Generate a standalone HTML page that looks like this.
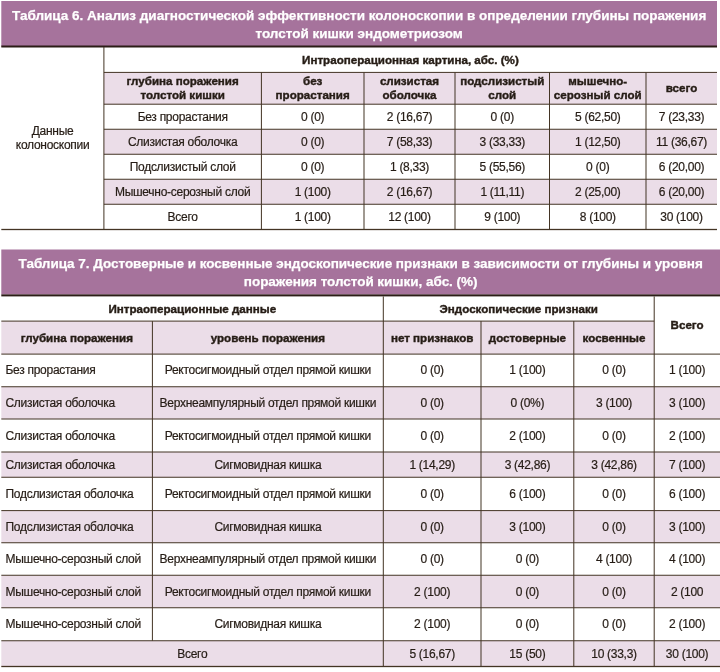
<!DOCTYPE html>
<html lang="ru"><head><meta charset="utf-8"><title>Таблицы 6 и 7</title>
<style>
html,body{margin:0;padding:0;background:#fff}
body{width:720px;height:672px;position:relative;overflow:hidden;font-family:"Liberation Sans",Arial,sans-serif;color:#261d16}
.bg{position:absolute;left:0;top:0}
.c{position:absolute;display:flex;align-items:center;justify-content:center;text-align:center;box-sizing:border-box;white-space:nowrap}
.c span{display:block}
.title{color:#fff;font-weight:bold;font-size:13.5px;line-height:18px;letter-spacing:0;-webkit-text-stroke:0.25px #fff}
.hb{font-weight:bold;font-size:11.6px;line-height:14px;letter-spacing:0;-webkit-text-stroke:0.4px #261d16}
.t2{letter-spacing:-0.03px !important}
.d2{line-height:14.5px !important}
.b{font-size:12px;line-height:16px;letter-spacing:-0.28px;-webkit-text-stroke:0.2px #261d16}
</style></head>
<body>
<svg class="bg" width="720" height="672" viewBox="0 0 720 672">
<rect x="1.3" y="1" width="715.7" height="45.5" fill="#a6739c"/>
<rect x="1.3" y="45.5" width="715.7" height="2" fill="#2b1d17"/>
<rect x="103.9" y="72.4" width="613.1" height="31.8" fill="#ebdde8"/>
<rect x="103.9" y="129.25" width="613.1" height="25" fill="#ebdde8"/>
<rect x="103.9" y="179.25" width="613.1" height="25" fill="#ebdde8"/>
<rect x="103.9" y="71.9" width="613.1" height="1" fill="#433424"/>
<rect x="103.9" y="103.7" width="613.1" height="1" fill="#433424"/>
<rect x="103.9" y="128.75" width="613.1" height="1" fill="#433424"/>
<rect x="103.9" y="153.75" width="613.1" height="1" fill="#433424"/>
<rect x="103.9" y="178.75" width="613.1" height="1" fill="#433424"/>
<rect x="103.9" y="203.75" width="613.1" height="1" fill="#433424"/>
<rect x="1.3" y="228.85" width="715.7" height="1.3" fill="#433424"/>
<rect x="103.4" y="47" width="1" height="182.5" fill="#433424"/>
<rect x="260.9" y="72.4" width="1" height="157.1" fill="#433424"/>
<rect x="363.5" y="72.4" width="1" height="157.1" fill="#433424"/>
<rect x="454.5" y="72.4" width="1" height="157.1" fill="#433424"/>
<rect x="549" y="72.4" width="1" height="157.1" fill="#433424"/>
<rect x="645.5" y="72.4" width="1" height="157.1" fill="#433424"/>
<rect x="1.3" y="249.5" width="718.7" height="45" fill="#a6739c"/>
<rect x="1.3" y="294.4" width="718.7" height="2" fill="#2b1d17"/>
<rect x="1.3" y="321.1" width="652.9" height="33" fill="#ebdde8"/>
<rect x="1.3" y="386.75" width="718.7" height="32.25" fill="#ebdde8"/>
<rect x="1.3" y="452" width="718.7" height="25.25" fill="#ebdde8"/>
<rect x="1.3" y="510.6" width="718.7" height="32.15" fill="#ebdde8"/>
<rect x="1.3" y="575.25" width="718.7" height="32.5" fill="#ebdde8"/>
<rect x="1.3" y="640.75" width="718.7" height="25.75" fill="#ebdde8"/>
<rect x="1.3" y="320.6" width="652.9" height="1" fill="#433424"/>
<rect x="1.3" y="353.6" width="718.7" height="1" fill="#433424"/>
<rect x="1.3" y="386.25" width="718.7" height="1" fill="#433424"/>
<rect x="1.3" y="418.5" width="718.7" height="1" fill="#433424"/>
<rect x="1.3" y="451.5" width="718.7" height="1" fill="#433424"/>
<rect x="1.3" y="476.75" width="718.7" height="1" fill="#433424"/>
<rect x="1.3" y="510.1" width="718.7" height="1" fill="#433424"/>
<rect x="1.3" y="542.25" width="718.7" height="1" fill="#433424"/>
<rect x="1.3" y="574.75" width="718.7" height="1" fill="#433424"/>
<rect x="1.3" y="607.25" width="718.7" height="1" fill="#433424"/>
<rect x="1.3" y="640.25" width="718.7" height="1" fill="#433424"/>
<rect x="1.3" y="665.85" width="718.7" height="1.3" fill="#433424"/>
<rect x="151.9" y="321.1" width="1" height="319.65" fill="#433424"/>
<rect x="382.8" y="296.4" width="1" height="370.1" fill="#433424"/>
<rect x="480.5" y="321.1" width="1" height="345.4" fill="#433424"/>
<rect x="573.3" y="321.1" width="1" height="345.4" fill="#433424"/>
<rect x="653.7" y="296.4" width="1" height="370.1" fill="#433424"/>
</svg>
<div class="c title" style="left:1.3px;top:2px;width:715.7px;height:45px;"><span>Таблица 6. Анализ диагностической эффективности колоноскопии в определении глубины поражения<br>толстой кишки эндометриозом</span></div>
<div class="c hb" style="left:103.9px;top:47px;width:613.1px;height:25.400000000000006px;"><span>Интраоперационная картина, абс. (%)</span></div>
<div class="c hb h2" style="left:103.9px;top:72.4px;width:157.49999999999997px;height:31.799999999999997px;"><span>глубина поражения<br>толстой кишки</span></div>
<div class="c hb h2" style="left:261.4px;top:72.4px;width:102.60000000000002px;height:31.799999999999997px;"><span>без<br>прорастания</span></div>
<div class="c hb h2" style="left:364px;top:72.4px;width:91px;height:31.799999999999997px;"><span>слизистая<br>оболочка</span></div>
<div class="c hb h2" style="left:455px;top:72.4px;width:94.5px;height:31.799999999999997px;"><span>подслизистый<br>слой</span></div>
<div class="c hb h2" style="left:549.5px;top:72.4px;width:96.5px;height:31.799999999999997px;"><span>мышечно-<br>серозный слой</span></div>
<div class="c hb h2" style="left:646px;top:72.4px;width:71px;height:31.799999999999997px;"><span>всего</span></div>
<div class="c b d2" style="left:1.3px;top:47px;width:102.60000000000001px;height:182.5px;"><span>Данные<br>колоноскопии</span></div>
<div class="c b" style="left:103.9px;top:104.2px;width:157.49999999999997px;height:25.049999999999997px;"><span>Без прорастания</span></div>
<div class="c b" style="left:261.4px;top:104.2px;width:102.60000000000002px;height:25.049999999999997px;"><span>0 (0)</span></div>
<div class="c b" style="left:364px;top:104.2px;width:91px;height:25.049999999999997px;"><span>2 (16,67)</span></div>
<div class="c b" style="left:455px;top:104.2px;width:94.5px;height:25.049999999999997px;"><span>0 (0)</span></div>
<div class="c b" style="left:549.5px;top:104.2px;width:96.5px;height:25.049999999999997px;"><span>5 (62,50)</span></div>
<div class="c b" style="left:646px;top:104.2px;width:71px;height:25.049999999999997px;"><span>7 (23,33)</span></div>
<div class="c b" style="left:103.9px;top:129.25px;width:157.49999999999997px;height:25.0px;"><span>Слизистая оболочка</span></div>
<div class="c b" style="left:261.4px;top:129.25px;width:102.60000000000002px;height:25.0px;"><span>0 (0)</span></div>
<div class="c b" style="left:364px;top:129.25px;width:91px;height:25.0px;"><span>7 (58,33)</span></div>
<div class="c b" style="left:455px;top:129.25px;width:94.5px;height:25.0px;"><span>3 (33,33)</span></div>
<div class="c b" style="left:549.5px;top:129.25px;width:96.5px;height:25.0px;"><span>1 (12,50)</span></div>
<div class="c b" style="left:646px;top:129.25px;width:71px;height:25.0px;"><span>11 (36,67)</span></div>
<div class="c b" style="left:103.9px;top:154.25px;width:157.49999999999997px;height:25.0px;"><span>Подслизистый слой</span></div>
<div class="c b" style="left:261.4px;top:154.25px;width:102.60000000000002px;height:25.0px;"><span>0 (0)</span></div>
<div class="c b" style="left:364px;top:154.25px;width:91px;height:25.0px;"><span>1 (8,33)</span></div>
<div class="c b" style="left:455px;top:154.25px;width:94.5px;height:25.0px;"><span>5 (55,56)</span></div>
<div class="c b" style="left:549.5px;top:154.25px;width:96.5px;height:25.0px;"><span>0 (0)</span></div>
<div class="c b" style="left:646px;top:154.25px;width:71px;height:25.0px;"><span>6 (20,00)</span></div>
<div class="c b" style="left:103.9px;top:179.25px;width:157.49999999999997px;height:25.0px;"><span>Мышечно-серозный слой</span></div>
<div class="c b" style="left:261.4px;top:179.25px;width:102.60000000000002px;height:25.0px;"><span>1 (100)</span></div>
<div class="c b" style="left:364px;top:179.25px;width:91px;height:25.0px;"><span>2 (16,67)</span></div>
<div class="c b" style="left:455px;top:179.25px;width:94.5px;height:25.0px;"><span>1 (11,11)</span></div>
<div class="c b" style="left:549.5px;top:179.25px;width:96.5px;height:25.0px;"><span>2 (25,00)</span></div>
<div class="c b" style="left:646px;top:179.25px;width:71px;height:25.0px;"><span>6 (20,00)</span></div>
<div class="c b" style="left:103.9px;top:204.25px;width:157.49999999999997px;height:25.25px;"><span>Всего</span></div>
<div class="c b" style="left:261.4px;top:204.25px;width:102.60000000000002px;height:25.25px;"><span>1 (100)</span></div>
<div class="c b" style="left:364px;top:204.25px;width:91px;height:25.25px;"><span>12 (100)</span></div>
<div class="c b" style="left:455px;top:204.25px;width:94.5px;height:25.25px;"><span>9 (100)</span></div>
<div class="c b" style="left:549.5px;top:204.25px;width:96.5px;height:25.25px;"><span>8 (100)</span></div>
<div class="c b" style="left:646px;top:204.25px;width:71px;height:25.25px;"><span>30 (100)</span></div>
<div class="c title t2" style="left:1.3px;top:250.5px;width:718.7px;height:45.0px;"><span>Таблица 7. Достоверные и косвенные эндоскопические признаки в зависимости от глубины и уровня<br>поражения толстой кишки, абс. (%)</span></div>
<div class="c hb" style="left:1.3px;top:296.4px;width:382.0px;height:24.700000000000045px;"><span>Интраоперационные данные</span></div>
<div class="c hb" style="left:383.3px;top:296.4px;width:270.90000000000003px;height:24.700000000000045px;"><span>Эндоскопические признаки</span></div>
<div class="c hb" style="left:654.2px;top:296.4px;width:65.79999999999995px;height:57.700000000000045px;"><span>Всего</span></div>
<div class="c hb" style="left:1.3px;top:321.1px;width:151.1px;height:33.0px;"><span>глубина поражения</span></div>
<div class="c hb" style="left:152.4px;top:321.1px;width:230.9px;height:33.0px;"><span>уровень поражения</span></div>
<div class="c hb" style="left:383.3px;top:321.1px;width:97.69999999999999px;height:33.0px;"><span>нет признаков</span></div>
<div class="c hb" style="left:481px;top:321.1px;width:92.79999999999995px;height:33.0px;"><span>достоверные</span></div>
<div class="c hb" style="left:573.8px;top:321.1px;width:80.40000000000009px;height:33.0px;"><span>косвенные</span></div>
<div class="c b" style="left:1.3px;top:354.1px;width:151.1px;height:32.64999999999998px;justify-content:flex-start;text-align:left;padding-left:4.2px;"><span>Без прорастания</span></div>
<div class="c b" style="left:152.4px;top:354.1px;width:230.9px;height:32.64999999999998px;"><span>Ректосигмоидный отдел прямой кишки</span></div>
<div class="c b" style="left:383.3px;top:354.1px;width:97.69999999999999px;height:32.64999999999998px;"><span>0 (0)</span></div>
<div class="c b" style="left:481px;top:354.1px;width:92.79999999999995px;height:32.64999999999998px;"><span>1 (100)</span></div>
<div class="c b" style="left:573.8px;top:354.1px;width:80.40000000000009px;height:32.64999999999998px;"><span>0 (0)</span></div>
<div class="c b" style="left:654.2px;top:354.1px;width:65.79999999999995px;height:32.64999999999998px;"><span>1 (100)</span></div>
<div class="c b" style="left:1.3px;top:386.75px;width:151.1px;height:32.25px;justify-content:flex-start;text-align:left;padding-left:4.2px;"><span>Слизистая оболочка</span></div>
<div class="c b" style="left:152.4px;top:386.75px;width:230.9px;height:32.25px;"><span>Верхнеампулярный отдел прямой кишки</span></div>
<div class="c b" style="left:383.3px;top:386.75px;width:97.69999999999999px;height:32.25px;"><span>0 (0)</span></div>
<div class="c b" style="left:481px;top:386.75px;width:92.79999999999995px;height:32.25px;"><span>0 (0%)</span></div>
<div class="c b" style="left:573.8px;top:386.75px;width:80.40000000000009px;height:32.25px;"><span>3 (100)</span></div>
<div class="c b" style="left:654.2px;top:386.75px;width:65.79999999999995px;height:32.25px;"><span>3 (100)</span></div>
<div class="c b" style="left:1.3px;top:419px;width:151.1px;height:33px;justify-content:flex-start;text-align:left;padding-left:4.2px;"><span>Слизистая оболочка</span></div>
<div class="c b" style="left:152.4px;top:419px;width:230.9px;height:33px;"><span>Ректосигмоидный отдел прямой кишки</span></div>
<div class="c b" style="left:383.3px;top:419px;width:97.69999999999999px;height:33px;"><span>0 (0)</span></div>
<div class="c b" style="left:481px;top:419px;width:92.79999999999995px;height:33px;"><span>2 (100)</span></div>
<div class="c b" style="left:573.8px;top:419px;width:80.40000000000009px;height:33px;"><span>0 (0)</span></div>
<div class="c b" style="left:654.2px;top:419px;width:65.79999999999995px;height:33px;"><span>2 (100)</span></div>
<div class="c b" style="left:1.3px;top:452px;width:151.1px;height:25.25px;justify-content:flex-start;text-align:left;padding-left:4.2px;"><span>Слизистая оболочка</span></div>
<div class="c b" style="left:152.4px;top:452px;width:230.9px;height:25.25px;"><span>Сигмовидная кишка</span></div>
<div class="c b" style="left:383.3px;top:452px;width:97.69999999999999px;height:25.25px;"><span>1 (14,29)</span></div>
<div class="c b" style="left:481px;top:452px;width:92.79999999999995px;height:25.25px;"><span>3 (42,86)</span></div>
<div class="c b" style="left:573.8px;top:452px;width:80.40000000000009px;height:25.25px;"><span>3 (42,86)</span></div>
<div class="c b" style="left:654.2px;top:452px;width:65.79999999999995px;height:25.25px;"><span>7 (100)</span></div>
<div class="c b" style="left:1.3px;top:477.25px;width:151.1px;height:33.35000000000002px;justify-content:flex-start;text-align:left;padding-left:4.2px;"><span>Подслизистая оболочка</span></div>
<div class="c b" style="left:152.4px;top:477.25px;width:230.9px;height:33.35000000000002px;"><span>Ректосигмоидный отдел прямой кишки</span></div>
<div class="c b" style="left:383.3px;top:477.25px;width:97.69999999999999px;height:33.35000000000002px;"><span>0 (0)</span></div>
<div class="c b" style="left:481px;top:477.25px;width:92.79999999999995px;height:33.35000000000002px;"><span>6 (100)</span></div>
<div class="c b" style="left:573.8px;top:477.25px;width:80.40000000000009px;height:33.35000000000002px;"><span>0 (0)</span></div>
<div class="c b" style="left:654.2px;top:477.25px;width:65.79999999999995px;height:33.35000000000002px;"><span>6 (100)</span></div>
<div class="c b" style="left:1.3px;top:510.6px;width:151.1px;height:32.14999999999998px;justify-content:flex-start;text-align:left;padding-left:4.2px;"><span>Подслизистая оболочка</span></div>
<div class="c b" style="left:152.4px;top:510.6px;width:230.9px;height:32.14999999999998px;"><span>Сигмовидная кишка</span></div>
<div class="c b" style="left:383.3px;top:510.6px;width:97.69999999999999px;height:32.14999999999998px;"><span>0 (0)</span></div>
<div class="c b" style="left:481px;top:510.6px;width:92.79999999999995px;height:32.14999999999998px;"><span>3 (100)</span></div>
<div class="c b" style="left:573.8px;top:510.6px;width:80.40000000000009px;height:32.14999999999998px;"><span>0 (0)</span></div>
<div class="c b" style="left:654.2px;top:510.6px;width:65.79999999999995px;height:32.14999999999998px;"><span>3 (100)</span></div>
<div class="c b" style="left:1.3px;top:542.75px;width:151.1px;height:32.5px;justify-content:flex-start;text-align:left;padding-left:4.2px;"><span>Мышечно-серозный слой</span></div>
<div class="c b" style="left:152.4px;top:542.75px;width:230.9px;height:32.5px;"><span>Верхнеампулярный отдел прямой кишки</span></div>
<div class="c b" style="left:383.3px;top:542.75px;width:97.69999999999999px;height:32.5px;"><span>0 (0)</span></div>
<div class="c b" style="left:481px;top:542.75px;width:92.79999999999995px;height:32.5px;"><span>0 (0)</span></div>
<div class="c b" style="left:573.8px;top:542.75px;width:80.40000000000009px;height:32.5px;"><span>4 (100)</span></div>
<div class="c b" style="left:654.2px;top:542.75px;width:65.79999999999995px;height:32.5px;"><span>4 (100)</span></div>
<div class="c b" style="left:1.3px;top:575.25px;width:151.1px;height:32.5px;justify-content:flex-start;text-align:left;padding-left:4.2px;"><span>Мышечно-серозный слой</span></div>
<div class="c b" style="left:152.4px;top:575.25px;width:230.9px;height:32.5px;"><span>Ректосигмоидный отдел прямой кишки</span></div>
<div class="c b" style="left:383.3px;top:575.25px;width:97.69999999999999px;height:32.5px;"><span>2 (100)</span></div>
<div class="c b" style="left:481px;top:575.25px;width:92.79999999999995px;height:32.5px;"><span>0 (0)</span></div>
<div class="c b" style="left:573.8px;top:575.25px;width:80.40000000000009px;height:32.5px;"><span>0 (0)</span></div>
<div class="c b" style="left:654.2px;top:575.25px;width:65.79999999999995px;height:32.5px;"><span>2 (100</span></div>
<div class="c b" style="left:1.3px;top:607.75px;width:151.1px;height:33.0px;justify-content:flex-start;text-align:left;padding-left:4.2px;"><span>Мышечно-серозный слой</span></div>
<div class="c b" style="left:152.4px;top:607.75px;width:230.9px;height:33.0px;"><span>Сигмовидная кишка</span></div>
<div class="c b" style="left:383.3px;top:607.75px;width:97.69999999999999px;height:33.0px;"><span>2 (100)</span></div>
<div class="c b" style="left:481px;top:607.75px;width:92.79999999999995px;height:33.0px;"><span>0 (0)</span></div>
<div class="c b" style="left:573.8px;top:607.75px;width:80.40000000000009px;height:33.0px;"><span>0 (0)</span></div>
<div class="c b" style="left:654.2px;top:607.75px;width:65.79999999999995px;height:33.0px;"><span>2 (100)</span></div>
<div class="c b" style="left:1.3px;top:640.75px;width:382.0px;height:25.75px;"><span>Всего</span></div>
<div class="c b" style="left:383.3px;top:640.75px;width:97.69999999999999px;height:25.75px;"><span>5 (16,67)</span></div>
<div class="c b" style="left:481px;top:640.75px;width:92.79999999999995px;height:25.75px;"><span>15 (50)</span></div>
<div class="c b" style="left:573.8px;top:640.75px;width:80.40000000000009px;height:25.75px;"><span>10 (33,3)</span></div>
<div class="c b" style="left:654.2px;top:640.75px;width:65.79999999999995px;height:25.75px;"><span>30 (100)</span></div>
</body></html>
